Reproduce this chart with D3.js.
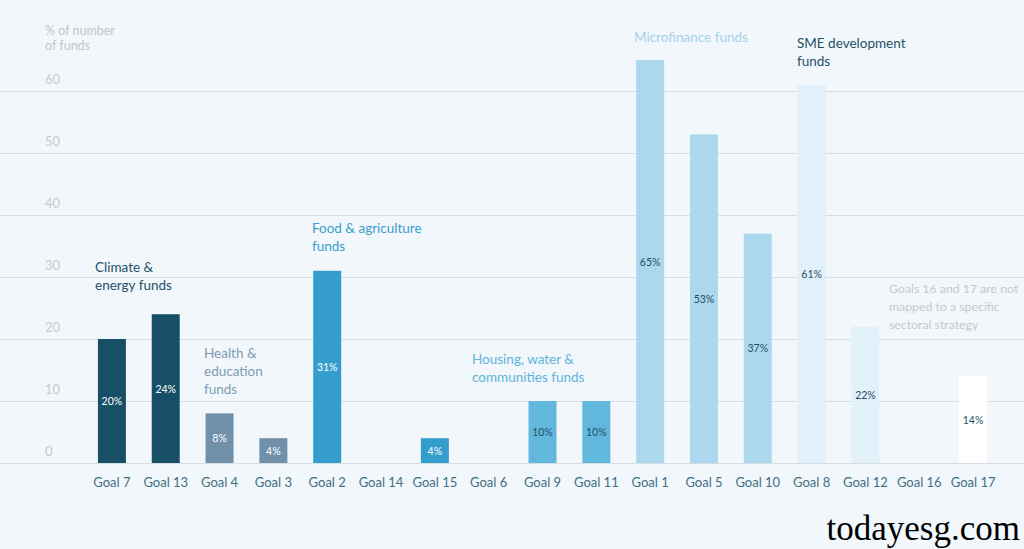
<!DOCTYPE html>
<html>
<head>
<meta charset="utf-8">
<script src="https://cdn.jsdelivr.net/npm/d3@7"></script>
<style>
  body { margin: 0; background: #f2f7fc; }
  svg { display: block; font-family: Lato, "Noto Sans", sans-serif; }
</style>
</head>
<body>
<script>
// data
var goals = ["Goal 7", "Goal 13", "Goal 4", "Goal 3", "Goal 2", "Goal 14", "Goal 15", "Goal 6",
  "Goal 9", "Goal 11", "Goal 1", "Goal 5", "Goal 10", "Goal 8", "Goal 12", "Goal 16", "Goal 17"];
var shares = [20, 24, 8, 4, 31, 0, 4, 0, 10, 10, 65, 53, 37, 61, 22, 0, 14];
var sectors = ["climate", "climate", "health", "health", "food", "food", "food", "housing",
  "housing", "housing", "micro", "micro", "micro", "sme", "sme", "none", "none"];
var yTicks = [0, 10, 20, 30, 40, 50, 60];

var barColor = {
  climate: "#174f66", health: "#7190aa", food: "#349dcc", housing: "#62b7dd",
  micro: "#acd8ed", sme: "#e1f0f9", none: "#ffffff"
};
var darkText = { climate: false, health: false, food: false, housing: true, micro: true, sme: true, none: true };

var notes = [
  { lines: ["Climate &", "energy funds"], x: 95, y: 272, color: "#1f5266", size: 13.5 },
  { lines: ["Health &", "education", "funds"], x: 204, y: 358, color: "#7d9bb2", size: 13.5 },
  { lines: ["Food & agriculture", "funds"], x: 312, y: 233, color: "#3a9dc9", size: 13.5 },
  { lines: ["Housing, water &", "communities funds"], x: 472, y: 364, color: "#5eb4da", size: 13.5 },
  { lines: ["Microfinance funds"], x: 634, y: 42, color: "#a6d2e7", size: 13.5 },
  { lines: ["SME development", "funds"], x: 797, y: 48, color: "#1f5266", size: 13.5 },
  { lines: ["Goals 16 and 17 are not", "mapped to a specific", "sectoral strategy"], x: 889, y: 293, color: "#c4c9ce", size: 12.3 }
];

var w = 1024, h = 549;

var svg = d3.select("body").append("svg")
  .attr("width", w)
  .attr("height", h);

svg.append("rect").attr("width", w).attr("height", h).attr("fill", "#f2f7fc");

var x = d3.scaleBand()
  .domain(goals)
  .range([85, 1000])
  .paddingInner(0.48)
  .paddingOuter(0.24);

var y = d3.scaleLinear()
  .domain([0, 60])
  .range([463, 91]);

// gridlines + tick labels
svg.selectAll(".grid")
  .data(yTicks)
  .enter()
  .append("line")
  .attr("x1", 0)
  .attr("x2", w)
  .attr("y1", function (d) { return y(d) + 0.5; })
  .attr("y2", function (d) { return y(d) + 0.5; })
  .attr("stroke", "#d6dee4")
  .attr("stroke-width", 1);

svg.selectAll(".ytick")
  .data(yTicks)
  .enter()
  .append("text")
  .attr("x", 45)
  .attr("y", function (d) { return y(d) - 7; })
  .attr("fill", "#c4cad0")
  .style("font-size", "13px")
  .text(function (d) { return d; });

svg.append("text")
  .attr("fill", "#bfc5cb")
  .style("font-size", "12.5px")
  .selectAll("tspan")
  .data(["% of number", "of funds"])
  .enter()
  .append("tspan")
  .attr("x", 45)
  .attr("y", function (d, i) { return 35 + i * 15; })
  .text(function (d) { return d; });

// bars
svg.selectAll(".bar")
  .data(shares)
  .enter()
  .append("rect")
  .attr("x", function (d, i) { return x(goals[i]); })
  .attr("y", function (d) { return y(d); })
  .attr("width", x.bandwidth())
  .attr("height", function (d) { return y(0) - y(d); })
  .attr("fill", function (d, i) { return barColor[sectors[i]]; });

// value labels, in the middle of each bar
shares.forEach(function (d, i) {
  if (d <= 0) return;
  svg.append("text")
    .attr("x", x(goals[i]) + x.bandwidth() / 2)
    .attr("y", (y(d) + y(0)) / 2 + 4)
    .attr("text-anchor", "middle")
    .attr("fill", darkText[sectors[i]] ? "#1f4f63" : "#ffffff")
    .style("font-size", "10.5px")
    .text(d + "%");
});

// x axis labels
var xAxis = d3.axisBottom(x).tickSize(0).tickPadding(0);
var gx = svg.append("g")
  .attr("transform", "translate(0," + 478 + ")")
  .call(xAxis);
gx.select(".domain").remove();
gx.selectAll("text")
  .attr("fill", "#3f6f82")
  .style("font-size", "13px")
  .style("font-family", "Lato, sans-serif");

// sector notes
notes.forEach(function (n) {
  var t = svg.append("text")
    .attr("fill", n.color)
    .style("font-size", n.size + "px");
  n.lines.forEach(function (line, i) {
    t.append("tspan")
      .attr("x", n.x)
      .attr("y", n.y + i * 18)
      .text(line);
  });
});

// watermark
svg.append("text")
  .attr("x", 1020)
  .attr("y", 540)
  .attr("text-anchor", "end")
  .attr("fill", "#000")
  .style("font-family", "'Liberation Serif', serif")
  .style("font-size", "35px")
  .text("todayesg.com");
</script>
</body>
</html>
